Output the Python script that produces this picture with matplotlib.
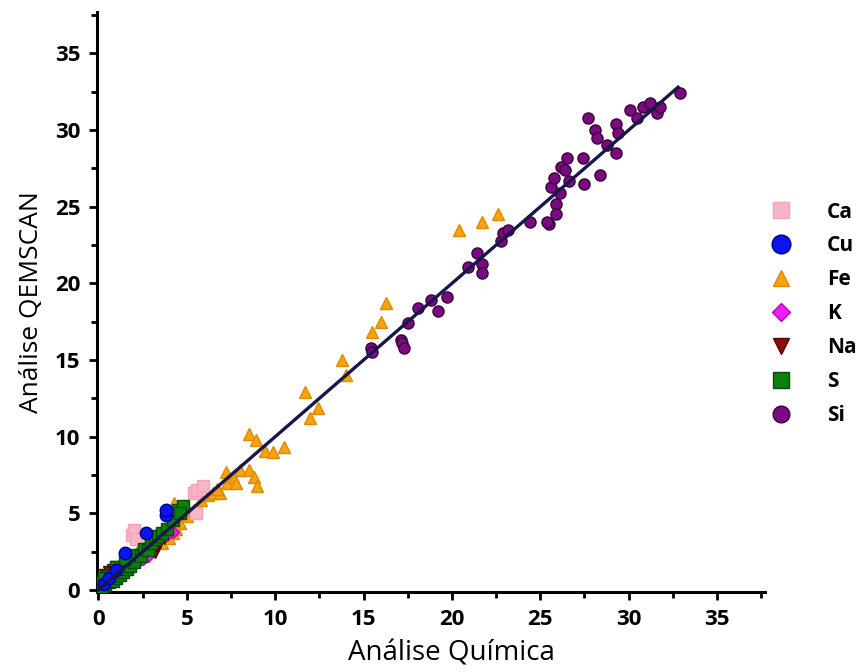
from matplotlib import pyplot as plt
from matplotlib.ticker import MultipleLocator
import numpy as np

plt.rcParams['font.family'] = ['Open Sans', 'DejaVu Sans']

ELEMENTS = ["Ca", "Cu", "Fe", "K", "Na", "S", "Si"]

# (quimica, qemscan) pairs per element, in wt%
ca_x = [0.4, 0.9, 1.9, 2.0, 2.1, 5.4, 5.6, 5.9, 5.5]
ca_y = [0.6, 1.1, 3.6, 3.9, 3.3, 6.3, 6.5, 6.8, 5.0]

cu_x = [0.3, 0.6, 1.0, 1.5, 2.7, 3.8, 3.8]
cu_y = [0.4, 0.8, 1.3, 2.4, 3.7, 4.9, 5.2]

fe_x = [1.8, 2.2, 2.6, 3.0, 3.4, 3.9, 4.2, 4.3, 4.6, 5.0, 5.4, 5.8, 6.2, 6.5,
        6.9, 7.3, 7.6, 7.8, 8.0, 8.5, 8.8, 9.0, 8.5, 8.9, 9.4, 9.9, 10.5, 11.7,
        12.0, 12.4, 13.8, 14.0, 15.5, 16.0, 16.3, 20.4, 21.7, 22.6, 7.2, 6.7,
        3.6, 4.0, 4.4]
fe_y = [2.1, 2.5, 2.8, 3.2, 3.5, 4.0, 3.7, 5.7, 4.4, 4.8, 5.2, 5.9, 6.2, 6.3,
        6.3, 7.0, 7.4, 7.0, 7.8, 7.8, 7.4, 6.8, 10.2, 9.8, 9.1, 9.0, 9.3, 12.9,
        11.2, 11.9, 15.0, 14.0, 16.8, 17.5, 18.7, 23.5, 24.0, 24.5, 7.7, 6.6,
        3.1, 3.4, 4.0]

k_x = [0.3, 0.6, 1.0, 2.3, 2.5, 2.8, 3.9, 4.2]
k_y = [0.2, 0.4, 0.7, 1.9, 2.0, 2.2, 3.6, 3.8]

na_x = [0.3, 0.4, 0.6, 0.8, 1.0, 2.4, 2.7, 2.8, 3.0, 3.2, 3.3, 3.5, 3.7]
na_y = [0.7, 1.0, 1.2, 1.3, 1.5, 2.3, 2.5, 2.2, 2.6, 2.5, 2.9, 3.2, 3.4]

s_x = [0.0, 0.1, 0.2, 0.3, 0.4, 0.5, 0.6, 0.7, 0.8, 0.9, 1.0, 1.1, 1.2, 1.3,
       1.4, 1.5, 1.6, 1.7, 1.8, 1.9, 2.0, 2.2, 2.4, 2.6, 2.8, 3.0, 3.2, 3.4,
       3.6, 3.9, 4.2, 4.5, 4.8, 4.6, 0.0, 0.2, 0.5, 1.0, 1.5, 0.1, 0.3]
s_y = [0.0, 0.2, 0.1, 0.4, 0.3, 0.6, 0.5, 0.8, 0.6, 1.0, 0.8, 1.2, 1.0, 1.4,
       1.2, 1.6, 1.4, 1.8, 1.6, 2.0, 1.8, 2.3, 2.2, 2.7, 2.6, 3.1, 3.3, 3.5,
       3.7, 4.0, 4.6, 5.2, 5.5, 5.0, -0.1, 0.0, 0.9, 1.5, 2.0, 0.5, 0.8]

si_x = [15.4, 15.5, 17.1, 17.2, 17.3, 17.5, 18.1, 18.8, 19.2, 19.7, 20.9,
        21.4, 21.7, 21.7, 22.8, 22.9, 23.2, 24.4, 25.5, 25.9, 26.1, 25.6, 25.8,
        26.2, 26.5, 26.4, 26.6, 27.4, 27.5, 28.1, 28.2, 27.7, 28.4, 28.8, 29.3,
        29.4, 29.3, 30.1, 30.5, 30.8, 31.2, 31.6, 31.8, 32.9, 25.4, 25.9]
si_y = [15.8, 15.5, 16.3, 16.1, 15.8, 17.4, 18.4, 18.9, 18.2, 19.1, 21.1,
        22.0, 21.3, 20.7, 22.8, 23.3, 23.5, 24.0, 23.9, 25.2, 25.9, 26.3, 26.9,
        27.6, 28.2, 27.4, 26.7, 28.2, 26.5, 30.0, 29.5, 30.8, 27.1, 29.0, 30.4,
        29.8, 28.5, 31.3, 30.8, 31.5, 31.8, 31.1, 31.5, 32.4, 24.0, 24.5]

FIT_X = [0.0, 32.8]

STYLES = {
    "Ca": dict(marker="s", color="#f7b6c6", edge="#f2a3b8"),
    "Cu": dict(marker="o", color="#0a14f0", edge="#00008a"),
    "Fe": dict(marker="^", color="#f7a20e", edge="#e08a00"),
    "K": dict(marker="D", color="#f01cf0", edge="#c000c0"),
    "Na": dict(marker="v", color="#8a1010", edge="#5a0000"),
    "S": dict(marker="s", color="#0c800c", edge="#064a06"),
    "Si": dict(marker="o", color="#7a0a80", edge="#3a003a"),
}
SIZES = {"Ca": 8, "Cu": 9, "Fe": 8, "K": 6, "Na": 8, "S": 8, "Si": 8}


def main():
    fig = plt.figure(figsize=(8.66, 6.72), dpi=100)
    ax = fig.add_axes([0.112, 0.119, 0.771, 0.863])

    data = {
        "Ca": (ca_x, ca_y), "Cu": (cu_x, cu_y), "Fe": (fe_x, fe_y),
        "K": (k_x, k_y), "Na": (na_x, na_y), "S": (s_x, s_y),
        "Si": (si_x, si_y),
    }
    # draw order: big series first, small ones on top near origin
    for name in ["Si", "Fe", "Ca", "Na", "K", "S", "Cu"]:
        st = STYLES[name]
        x, y = data[name]
        ax.plot(x, y, linestyle="none", marker=st["marker"],
                markersize=SIZES[name], markerfacecolor=st["color"],
                markeredgecolor=st["edge"], markeredgewidth=1.0,
                label=name, zorder=3)

    ax.plot(FIT_X, FIT_X, color="#17174a", lw=2.4, zorder=4)

    ax.set_xlim(-0.08, 37.7)
    ax.set_ylim(-0.13, 37.7)
    for side in ["top", "right"]:
        ax.spines[side].set_visible(False)
    for side in ["left", "bottom"]:
        ax.spines[side].set_linewidth(2.2)
    ax.xaxis.set_major_locator(MultipleLocator(5))
    ax.yaxis.set_major_locator(MultipleLocator(5))
    ax.xaxis.set_minor_locator(MultipleLocator(2.5))
    ax.yaxis.set_minor_locator(MultipleLocator(2.5))
    ax.tick_params(which="major", direction="out", length=6, width=2,
                   labelsize=16, pad=6)
    ax.tick_params(which="minor", direction="out", length=4, width=2)
    for lab in ax.get_xticklabels() + ax.get_yticklabels():
        lab.set_fontweight("bold")

    ax.set_xlabel("Análise Química", fontsize=20)
    ax.xaxis.set_label_coords(0.531, -0.082)
    ax.set_ylabel("Análise QEMSCAN", fontsize=19, labelpad=8)

    handles, labels = ax.get_legend_handles_labels()
    order = [labels.index(n) for n in ELEMENTS]
    fig.legend([handles[i] for i in order], ELEMENTS,
               loc="center left", bbox_to_anchor=(0.856, 0.533),
               frameon=False, markerscale=1.5, handletextpad=1.2,
               labelspacing=0.62, prop={"size": 15, "weight": "bold"})

    fig.savefig("out.png", dpi=100)


if __name__ == "__main__":
    main()
